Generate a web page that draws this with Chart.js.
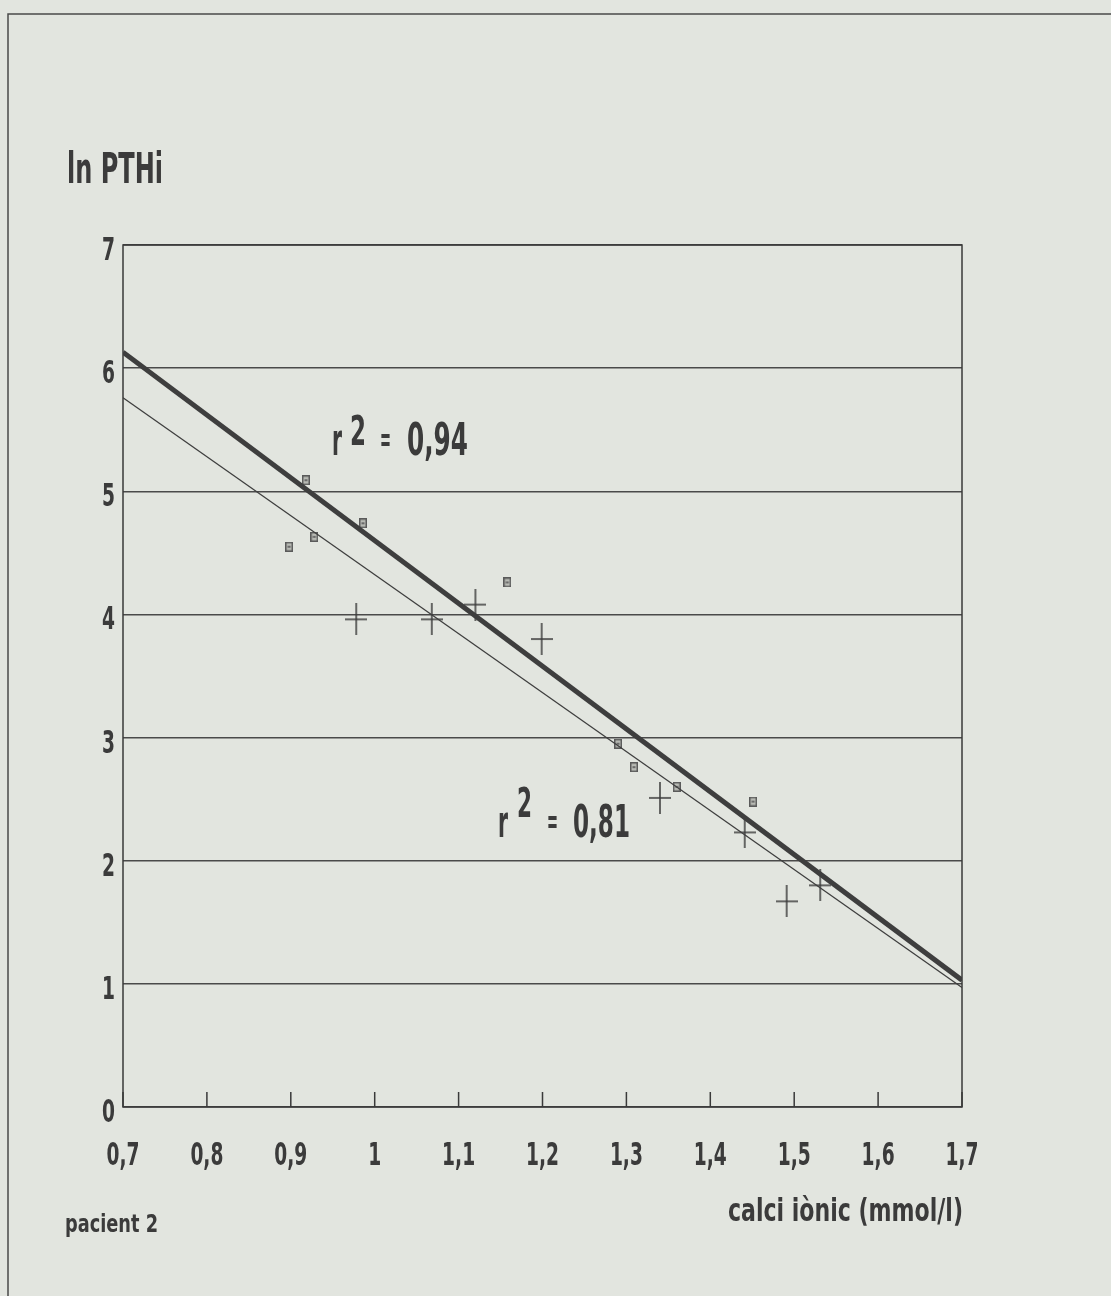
<!DOCTYPE html>
<html>
<head>
<meta charset="utf-8">
<script src="https://cdn.jsdelivr.net/npm/chart.js@4/dist/chart.umd.min.js"></script>
<style>
  html, body { margin: 0; padding: 0; background: #e2e5df; }
  #wrap { width: 1111px; height: 1296px; }
</style>
</head>
<body>
<div id="wrap"><canvas id="chart" width="1111" height="1296"></canvas></div>
<script>
// pacient 2: squares (r2 = 0,94) and crosses (r2 = 0,81)
const squareCalci = [0.898, 0.918, 0.928, 0.986, 1.158, 1.290, 1.309, 1.360, 1.451];
const squareLnPth = [4.55, 5.09, 4.63, 4.74, 4.26, 2.95, 2.76, 2.60, 2.48];
const crossCalci = [0.978, 1.068, 1.120, 1.199, 1.340, 1.441, 1.491, 1.531];
const crossLnPth = [3.96, 3.96, 4.08, 3.80, 2.51, 2.23, 1.67, 1.80];

// regression lines, end points at x = 0,7 and 1,7
const fitX = [0.7, 1.7];
const fitThick = [6.13, 1.03];
const fitThin = [5.76, 0.97];

const xTicks = [0.7, 0.8, 0.9, 1.0, 1.1, 1.2, 1.3, 1.4, 1.5, 1.6, 1.7];
const yTicks = [0, 1, 2, 3, 4, 5, 6, 7];

const FONT = "'DejaVu Sans Condensed', 'Liberation Sans Narrow', sans-serif";
const INK = '#3b3b3b';

function pairs(xs, ys) {
  return xs.map((x, i) => ({ x: x, y: ys[i] }));
}

function tickText(v) {
  return String(Math.round(v * 10) / 10).replace('.', ',');
}

// marker images
function plusMarker() {
  const c = document.createElement('canvas');
  c.width = 22; c.height = 32;
  const g = c.getContext('2d');
  g.strokeStyle = INK;
  g.lineWidth = 1.5;
  g.beginPath();
  g.moveTo(0, 16); g.lineTo(22, 16);
  g.moveTo(11, 0); g.lineTo(11, 32);
  g.stroke();
  return c;
}

function squareMarker() {
  const c = document.createElement('canvas');
  c.width = 8; c.height = 10;
  const g = c.getContext('2d');
  g.fillStyle = '#5a5a5a';
  g.fillRect(0, 0, 8, 10);
  g.fillStyle = '#b8bab4';
  g.fillRect(1.5, 1.5, 5, 7);
  g.fillStyle = '#6a6a6a';
  g.fillRect(2.5, 4, 3, 2);
  return c;
}

// condensed text: either squeezed to a width or by a factor
function drawText(ctx, str, x, baseline, size, width, align) {
  ctx.save();
  ctx.font = 'bold ' + size + 'px ' + FONT;
  const w = ctx.measureText(str).width;
  const sx = width > 0 ? width / w : -width;
  const shown = w * sx;
  let left = x;
  if (align === 'center') left = x - shown / 2;
  if (align === 'right') left = x - shown;
  ctx.translate(left, baseline);
  ctx.scale(sx, 1);
  ctx.fillText(str, 0, 0);
  ctx.restore();
}

const pagePlugin = {
  id: 'page',
  beforeDraw(chart) {
    const ctx = chart.ctx;
    ctx.save();
    ctx.fillStyle = '#e2e5df';
    ctx.fillRect(0, 0, chart.width, chart.height);
    ctx.strokeStyle = '#4a4a4a';
    ctx.lineWidth = 1.5;
    ctx.beginPath();
    ctx.moveTo(8, chart.height);
    ctx.lineTo(8, 14);
    ctx.lineTo(chart.width, 14);
    ctx.stroke();
    ctx.restore();
  },
  beforeDatasetsDraw(chart) {
    const ctx = chart.ctx;
    const a = chart.chartArea;
    const xs = chart.scales.x;
    ctx.save();
    ctx.strokeStyle = '#3a3a3a';
    ctx.lineWidth = 1.5;
    ctx.strokeRect(a.left, a.top, a.right - a.left, a.bottom - a.top);
    // inward tick marks on the x axis
    ctx.beginPath();
    xs.ticks.forEach(t => {
      const px = xs.getPixelForValue(t.value);
      ctx.moveTo(px, a.bottom);
      ctx.lineTo(px, a.bottom - 15);
    });
    ctx.stroke();
    ctx.restore();
  },
  afterDraw(chart) {
    const ctx = chart.ctx;
    const xs = chart.scales.x;
    const ys = chart.scales.y;
    ctx.save();
    ctx.fillStyle = INK;
    ctx.textBaseline = 'alphabetic';

    // axis tick labels, placed by the chart's scales
    ctx.font = 'bold 32px ' + FONT;
    const squeeze = 33 / ctx.measureText('0,7').width;
    xs.ticks.forEach(t => {
      drawText(ctx, tickText(t.value), xs.getPixelForValue(t.value), 1165, 32, -squeeze, 'center');
    });
    ys.ticks.forEach(t => {
      drawText(ctx, String(t.value), 115, ys.getPixelForValue(t.value) + 15, 32, -squeeze, 'right');
    });

    drawText(ctx, 'ln PTHi', 67, 183, 43, 96);

    drawText(ctx, 'r', 332, 455, 44, 10);
    drawText(ctx, '2', 350, 445, 41, 16);
    drawText(ctx, '=', 380, 451, 34, 11);
    drawText(ctx, '0,94', 407, 455, 45, 61);

    drawText(ctx, 'r', 498, 837, 44, 10);
    drawText(ctx, '2', 517, 817, 41, 15);
    drawText(ctx, '=', 547, 833, 34, 11);
    drawText(ctx, '0,81', 573, 837, 45, 57);

    drawText(ctx, 'calci iònic (mmol/l)', 728, 1221, 32, 235);
    drawText(ctx, 'pacient 2', 65, 1232, 24, 93);
    ctx.restore();
  }
};

new Chart(document.getElementById('chart'), {
  type: 'scatter',
  data: {
    datasets: [
      {
        type: 'line',
        data: pairs(fitX, fitThick),
        borderColor: '#3e3e3e',
        borderWidth: 5,
        pointRadius: 0,
        fill: false
      },
      {
        type: 'line',
        data: pairs(fitX, fitThin),
        borderColor: '#3e3e3e',
        borderWidth: 1.3,
        pointRadius: 0,
        fill: false
      },
      {
        data: pairs(squareCalci, squareLnPth),
        pointStyle: squareMarker()
      },
      {
        data: pairs(crossCalci, crossLnPth),
        pointStyle: plusMarker()
      }
    ]
  },
  options: {
    responsive: false,
    animation: false,
    layout: { padding: { top: 245, right: 149, left: 0, bottom: 0 } },
    plugins: { legend: { display: false }, tooltip: { enabled: false } },
    scales: {
      x: {
        type: 'linear',
        min: 0.7,
        max: 1.7,
        afterFit(scale) { scale.height = 189; },
        afterBuildTicks(scale) { scale.ticks = xTicks.map(v => ({ value: v })); },
        grid: { display: false, drawTicks: false },
        border: { display: false },
        ticks: { display: false, callback: tickText }
      },
      y: {
        type: 'linear',
        min: 0,
        max: 7,
        afterFit(scale) { scale.width = 123; },
        afterBuildTicks(scale) { scale.ticks = yTicks.map(v => ({ value: v })); },
        grid: { color: '#4a4a4a', lineWidth: 1.5, drawTicks: false },
        border: { display: false },
        ticks: { display: false }
      }
    }
  },
  plugins: [pagePlugin]
});
</script>
</body>
</html>
